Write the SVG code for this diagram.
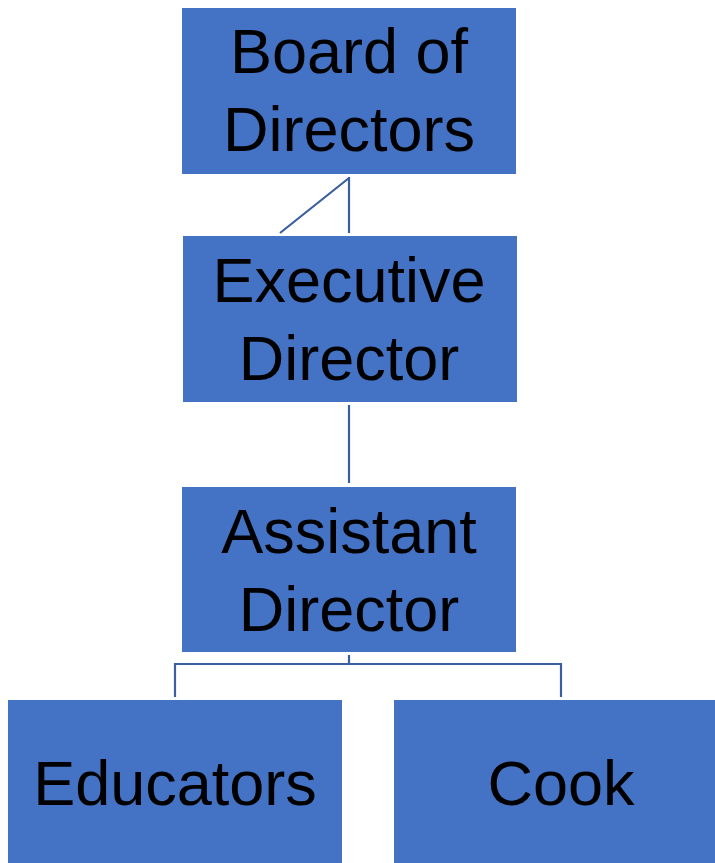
<svg xmlns="http://www.w3.org/2000/svg" width="715" height="863" viewBox="0 0 715 863">
  <style>
    .box { fill: #4472C4; }
    .lbl { font-family: "Liberation Sans", Arial, sans-serif; font-size: 63px; fill: #000; text-anchor: middle; }
    .wire { fill: none; stroke: #3A5E9E; stroke-width: 2.2; }
  </style>
  <rect width="715" height="863" fill="#fff"/>
  <g id="connectors">
    <path class="wire" d="M349 177 V233 M349 178 L280 233"/>
    <path class="wire" d="M349 405 V483"/>
    <path class="wire" d="M349 655 V664 M175 697 V664 H561 V697"/>
  </g>
  <g id="board">
    <rect class="box" x="182" y="8" width="334" height="166"/>
    <text class="lbl" x="349" y="73">Board of</text>
    <text class="lbl" x="349" y="151">Directors</text>
  </g>
  <g id="executive">
    <rect class="box" x="183" y="236" width="334" height="166"/>
    <text class="lbl" x="349" y="302">Executive</text>
    <text class="lbl" x="349" y="380">Director</text>
  </g>
  <g id="assistant">
    <rect class="box" x="182" y="487" width="334" height="165"/>
    <text class="lbl" x="349" y="553">Assistant</text>
    <text class="lbl" x="349" y="631">Director</text>
  </g>
  <g id="educators">
    <rect class="box" x="8" y="700" width="334" height="163"/>
    <text class="lbl" x="175" y="805">Educators</text>
  </g>
  <g id="cook">
    <rect class="box" x="394" y="700" width="321" height="163"/>
    <text class="lbl" x="561" y="805">Cook</text>
  </g>
</svg>
